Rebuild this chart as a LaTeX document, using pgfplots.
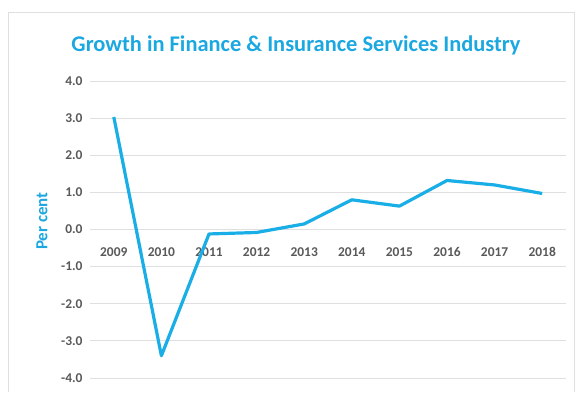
\documentclass[border=0pt]{standalone}
\usepackage{fontspec}
\setmainfont{Carlito}
\usepackage{pgfplots}
\pgfplotsset{compat=1.18}
\definecolor{lineblue}{HTML}{1AAEE6}
\definecolor{titleblue}{HTML}{1BA8E0}
\definecolor{ticktext}{HTML}{595959}
\begin{document}
\begin{tikzpicture}[x=1bp,y=1bp]
\path (0,0) rectangle (577,392);
\draw[gray!25, line width=1bp] (8,0) -- (8,379) -- (574,379) -- (574,0);
\begin{axis}[
  at={(90bp,14bp)}, anchor=south west,
  scale only axis, width=476bp, height=297bp,
  xmin=-0.5, xmax=9.5, ymin=-4, ymax=4,
  axis line style={draw=none},
  tick style={draw=none},
  xtick={0,...,9},
  xticklabels={2009,2010,2011,2012,2013,2014,2015,2016,2017,2018},
  ytick={-4,-3,...,4},
  yticklabel={\pgfmathprintnumber[fixed,fixed zerofill,precision=1]{\tick}},
  /pgf/number format/assume math mode=true,
  ymajorgrids,
  grid style={gray!25, line width=0.8bp},
  ticklabel style={font=\bfseries\fontsize{13.5}{15}\selectfont, text=ticktext},
  xticklabel style={yshift=134bp},
  yticklabel style={xshift=-4bp},
  clip=false,
]
\addplot[lineblue, line width=3.2bp, line join=round] coordinates {
  (0,3.03) (1,-3.4) (2,-0.12) (3,-0.08) (4,0.15) (5,0.8) (6,0.63) (7,1.32) (8,1.2) (9,0.97)
};
\end{axis}
\node[text=titleblue, font=\bfseries\fontsize{22.5}{26}\selectfont] at (296,347) {Growth in Finance \& Insurance Services Industry};
\node[text=titleblue, font=\bfseries\fontsize{17}{20}\selectfont, rotate=90] at (42,171) {Per cent};
\end{tikzpicture}
\end{document}
